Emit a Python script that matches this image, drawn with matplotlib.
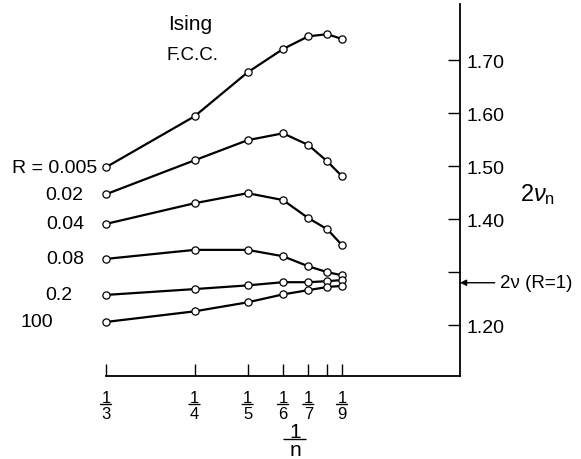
import matplotlib

matplotlib.use("Agg")
import matplotlib.pyplot as plt
from matplotlib.transforms import ScaledTranslation

# 2*nu_n estimates vs 1/n for the fcc Ising model, several anisotropy ratios R
n_values = [3, 4, 5, 6, 7, 8, 9]
n_labelled = [3, 4, 5, 6, 7, 9]
r_labels = ["R = 0.005", "0.02", "0.04", "0.08", "0.2", "100"]
nu_r0005 = [1.498, 1.594, 1.677, 1.721, 1.745, 1.749, 1.740]
nu_r002 = [1.447, 1.511, 1.549, 1.562, 1.540, 1.509, 1.481]
nu_r004 = [1.391, 1.430, 1.449, 1.436, 1.402, 1.381, 1.351]
nu_r008 = [1.325, 1.342, 1.342, 1.330, 1.311, 1.300, 1.294]
nu_r02 = [1.257, 1.268, 1.275, 1.281, 1.281, 1.283, 1.285]
nu_r100 = [1.206, 1.226, 1.243, 1.258, 1.266, 1.272, 1.274]
series = [nu_r0005, nu_r002, nu_r004, nu_r008, nu_r02, nu_r100]
two_nu_r1 = 1.28

ytick_values = [1.20, 1.30, 1.40, 1.50, 1.60, 1.70]
ytick_labels = ["1.20", "", "1.40", "1.50", "1.60", "1.70"]

# horizontal gap (px) between first point and right edge of each R label
label_gap_px = [9, 23, 22, 22, 34, 53]

plt.rcParams["font.family"] = ["Liberation Sans", "DejaVu Sans"]
plt.rcParams["mathtext.fontset"] = "custom"
plt.rcParams["mathtext.rm"] = "Liberation Sans"
plt.rcParams["mathtext.it"] = "Liberation Sans:italic"

W, H = 581, 460
fig = plt.figure(figsize=(W / 100, H / 100), dpi=100)
ax = fig.add_axes([106 / W, (H - 377) / H, (460 - 106) / W, (377 - 5) / H])


def px(dx, dy):
    return ScaledTranslation(dx / 100, -dy / 100, fig.dpi_scale_trans)


def fraction(xpos, den, top_base, bot_base, bar_y, half_w, size, dx=0):
    # stacked "1 over den" hanging below the x axis (offsets in px)
    base = ax.get_xaxis_transform()
    ax.text(xpos, 0, "1", transform=base + px(dx, top_base), ha="center",
            va="baseline", fontsize=size, clip_on=False)
    ax.text(xpos, 0, den, transform=base + px(dx, bot_base), ha="center",
            va="baseline", fontsize=size, clip_on=False)
    ax.annotate("", xy=(xpos, 0), xycoords=base + px(dx - half_w, bar_y),
                xytext=(xpos, 0), textcoords=base + px(dx + half_w, bar_y),
                annotation_clip=False,
                arrowprops=dict(arrowstyle="-", lw=1.0, color="black",
                                shrinkA=0, shrinkB=0))


x = [1 / n for n in n_values]
for vals in series:
    ax.plot(x, vals, color="black", lw=1.6, marker="o", ms=5.2,
            mfc="white", mec="black", mew=0.9, clip_on=False, zorder=3)

for lab, vals, gap in zip(r_labels, series, label_gap_px):
    ax.annotate(lab, xy=(x[0], vals[0]), xytext=(-gap * 0.72, 0),
                textcoords="offset points", ha="right", va="center", fontsize=14)

ax.set_xlim(1 / 3, 0)
ax.set_ylim(1.104, 1.806)

for side in ("left", "top"):
    ax.spines[side].set_visible(False)
for side in ("right", "bottom"):
    ax.spines[side].set_linewidth(1.3)

ax.yaxis.tick_right()
ax.set_yticks(ytick_values)
ax.set_yticklabels(ytick_labels)
ax.set_xticks(x)
ax.set_xticklabels([])
ax.tick_params(axis="y", direction="in", length=8.6, width=1.0, pad=5, labelsize=14)
ax.tick_params(axis="x", direction="in", length=8.6, width=1.0)

for n in n_labelled:
    fraction(1 / n, str(n), 26, 42, 28.5, 5.5, 12)

# axis title 1/n, centred a little right of the 1/6 tick
fraction(1 / 6, "n", 61, 79, 63.5, 11, 15, dx=12)

# reference value for R = 1
ax.annotate("2ν (R=1)", xy=(0, two_nu_r1), xytext=(29, 0), textcoords="offset points",
            ha="left", va="center", fontsize=13.5, annotation_clip=False,
            arrowprops=dict(arrowstyle="-|>", color="black", lw=1.0,
                            shrinkA=2, shrinkB=0, mutation_scale=9))

fig.text(538 / W, 1 - 195 / H, r"$2\nu_\mathrm{n}$", ha="center", va="center", fontsize=17)
fig.text(168 / W, 1 - 25 / H, "Ising", ha="left", va="center", fontsize=15)
fig.text(166 / W, 1 - 55 / H, "F.C.C.", ha="left", va="center", fontsize=13.5)

fig.savefig("out.png", dpi=100)
plt.close(fig)
